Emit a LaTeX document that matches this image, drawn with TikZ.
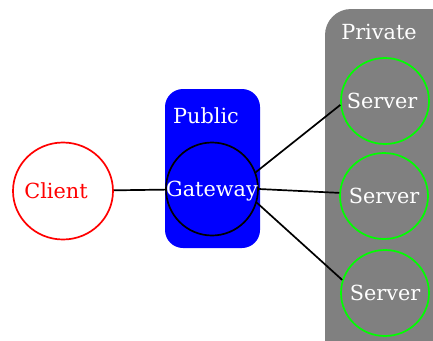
\documentclass[tikz,border=0pt]{standalone}
\usepackage{fontspec}
\setmainfont{DejaVu Serif}
\usetikzlibrary{shapes.geometric}
\begin{document}
\begin{tikzpicture}[x=1pt,y=-1pt,
  txt/.style={font=\fontsize{20.8}{22}\selectfont, inner sep=0pt},
  lbl/.style={txt, text=white},
  hostnode/.style={ellipse, draw, line width=1.7pt, minimum width=88pt, minimum height=86pt, inner sep=0pt},
  link/.style={line width=1.7pt, black},
  zone/.style={rounded corners=#1, draw=none}
]
\clip (0,0) rectangle (433,340);
\useasboundingbox (0,0) rectangle (433,340);

% zones
\fill[zone=18pt, fill=blue] (165,89) rectangle (260,248);
\fill[zone=26pt, fill=gray] (325,9) rectangle (460,370);
\node[lbl] (publbl) at (206,116) {Public};
\node[lbl] (privlbl) at (379,32) {Private};

% hosts (shape only; the name sits on top as a centred label)
\node[hostnode, draw=red, minimum width=100pt, minimum height=97pt,
      label={[txt, text=red, xshift=-7pt]center:Client}] (client) at (63,191) {};
\node[hostnode, draw=black, minimum width=92pt, minimum height=93pt,
      label={[lbl, yshift=-2pt]center:Gateway}] (gw) at (212,189) {};
\node[hostnode, draw=green, label={[lbl, xshift=-3pt]center:Server}] (s1) at (385,101) {};
\node[hostnode, draw=green, label={[lbl]center:Server}] (s2) at (384,196) {};
\node[hostnode, draw=green, label={[lbl]center:Server}] (s3) at (385,293) {};

% links
\draw[link] (client) -- (gw);
\draw[link] (gw.21) -- (s1.185);
\draw[link] (gw.east) -- (s2.176);
\draw[link] (gw.-17) -- (s3.163);
\end{tikzpicture}
\end{document}
